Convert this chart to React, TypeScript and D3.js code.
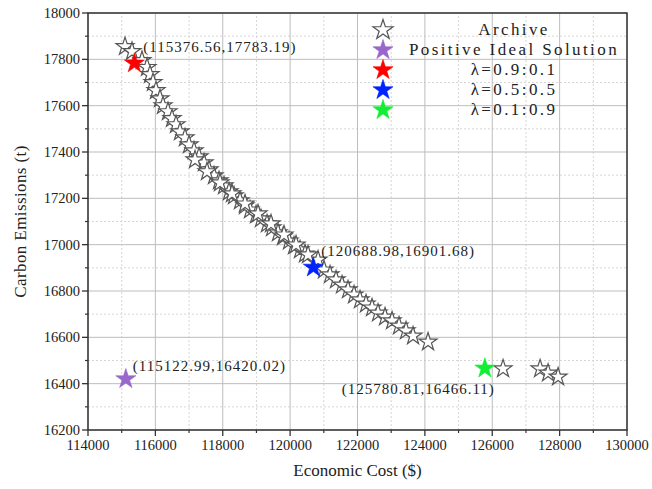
import * as d3 from 'd3';

// archive (pareto front)
const archiveCost = [
  115099, 115306, 115603, 115752, 115841, 115930, 116019, 116138, 116227, 116375,
  116494, 116613, 116731, 116880, 116999, 117147, 117296, 117444, 117592, 117741,
  117889, 118038, 118186, 118335, 118513, 118661, 118810, 118988, 119136, 119314,
  119463, 119641, 119790, 119968, 120116, 120294, 120443, 120829, 121007, 121185,
  121363, 121541, 121719, 121897, 122075, 122253, 122432, 122610, 122818, 123026,
  123233, 123441, 123649, 124094,
  117177, 117533, 117919, 118275, 118661, 119047, 119433, 119819, 120176, 120532,
  126321, 127420, 127657, 127954,
];
const archiveEmission = [
  17855, 17834, 17795, 17765, 17734, 17700, 17665, 17630, 17600, 17574,
  17544, 17518, 17487, 17461, 17431, 17405, 17379, 17353, 17323, 17297,
  17276, 17254, 17228, 17211, 17189, 17168, 17150, 17129, 17112, 17090,
  17073, 17051, 17034, 17016, 16995, 16978, 16960, 16934, 16891, 16870,
  16848, 16826, 16805, 16783, 16762, 16744, 16727, 16705, 16688, 16671,
  16649, 16628, 16606, 16580,
  17366, 17315, 17267, 17220, 17176, 17133, 17090, 17042, 16999, 16956,
  16464, 16464, 16446, 16429,
];

const specialNames = ['Positive Ideal Solution', 'λ=0.9:0.1', 'λ=0.5:0.5', 'λ=0.1:0.9'];
const specialCost = [115122.99, 115376.56, 120688.98, 125780.81];
const specialEmission = [16420.02, 17783.19, 16901.68, 16466.11];
const specialColors = ['#9966cc', '#ff0000', '#0022ff', '#11ee33'];

const xTicks = [114000, 116000, 118000, 120000, 122000, 124000, 126000, 128000, 130000];
const xMinor = [115000, 117000, 119000, 121000, 123000, 125000, 127000, 129000];
const yTicks = [16200, 16400, 16600, 16800, 17000, 17200, 17400, 17600, 17800, 18000];
const yMinor = [16300, 16500, 16700, 16900, 17100, 17300, 17500, 17700, 17900];

const W = 652;
const H = 489;
const margin = { left: 88, right: 25, top: 13, bottom: 59 };
const font = '"Liberation Serif", "Times New Roman", serif';

// label placement relative to each special point [dx, dy, anchor]
const labelPos: [number, number, string][] = [
  [7, -8, 'start'],
  [9, -11, 'start'],
  [8, -11, 'start'],
  [10, 26, 'end'],
];

export default function App() {
  const x = d3.scaleLinear().domain([114000, 130000]).range([margin.left, W - margin.right]);
  const y = d3.scaleLinear().domain([16200, 18000]).range([H - margin.bottom, margin.top]);
  const star = d3.symbol(d3.symbolStar, 100);
  const bigStar = d3.symbol(d3.symbolStar, 125);
  const x0 = x.range()[0], x1 = x.range()[1];
  const y0 = y.range()[0], y1 = y.range()[1];

  const legend = [
    { name: 'Archive', color: null as string | null },
    ...specialNames.map((n, i) => ({ name: n, color: specialColors[i] })),
  ];

  return (
    <svg width={W} height={H} style={{ position: 'absolute', left: 0, top: 0, background: '#fff' }}
      fontFamily={font}>
      {/* grid */}
      {xMinor.map((t) => (
        <line key={'xm' + t} x1={x(t)} x2={x(t)} y1={y0} y2={y1} stroke="#d6d6d6" strokeDasharray="2,2" />
      ))}
      {yMinor.map((t) => (
        <line key={'ym' + t} x1={x0} x2={x1} y1={y(t)} y2={y(t)} stroke="#d6d6d6" strokeDasharray="2,2" />
      ))}
      {xTicks.map((t) => (
        <line key={'xg' + t} x1={x(t)} x2={x(t)} y1={y0} y2={y1} stroke="#bdbdbd" />
      ))}
      {yTicks.map((t) => (
        <line key={'yg' + t} x1={x0} x2={x1} y1={y(t)} y2={y(t)} stroke="#bdbdbd" />
      ))}

      {/* frame */}
      <rect x={x0} y={y1} width={x1 - x0} height={y0 - y1} fill="none" stroke="#333" strokeWidth={1.5} />

      {/* ticks */}
      {xTicks.map((t) => (
        <g key={'xt' + t}>
          <line x1={x(t)} x2={x(t)} y1={y0} y2={y0 + 6} stroke="#333" strokeWidth={1.3} />
          <text x={x(t)} y={y0 + 20} textAnchor="middle" fontSize={14.5} fill="#222">{t}</text>
        </g>
      ))}
      {xMinor.map((t) => (
        <line key={'xmt' + t} x1={x(t)} x2={x(t)} y1={y0} y2={y0 + 3} stroke="#333" strokeWidth={1.2} />
      ))}
      {yTicks.map((t) => (
        <g key={'yt' + t}>
          <line x1={x0 - 6} x2={x0} y1={y(t)} y2={y(t)} stroke="#333" strokeWidth={1.3} />
          <text x={x0 - 8} y={y(t) + 5} textAnchor="end" fontSize={14.5} fill="#222">{t}</text>
        </g>
      ))}
      {yMinor.map((t) => (
        <line key={'ymt' + t} x1={x0 - 3} x2={x0} y1={y(t)} y2={y(t)} stroke="#333" strokeWidth={1.2} />
      ))}

      {/* axis titles */}
      <text x={(x0 + x1) / 2} y={476} textAnchor="middle" fontSize={17} fill="#222">
        Economic Cost ($)
      </text>
      <text transform={`translate(26,${(y0 + y1) / 2}) rotate(-90)`} textAnchor="middle" fontSize={17}
        letterSpacing={0.4} fill="#222">
        Carbon Emissions (t)
      </text>

      {/* archive */}
      {archiveCost.map((c, i) => (
        <path key={'a' + i} d={star()!} transform={`translate(${x(c)},${y(archiveEmission[i])})`}
          fill="#fff" stroke="#555" strokeWidth={1.2} />
      ))}

      {/* highlighted solutions */}
      {specialCost.map((c, i) => (
        <g key={'s' + i}>
          <path d={bigStar()!} transform={`translate(${x(c)},${y(specialEmission[i])})`}
            fill={specialColors[i]} stroke={specialColors[i]} strokeWidth={0.6} />
          <text x={x(c) + labelPos[i][0]} y={y(specialEmission[i]) + labelPos[i][1]}
            textAnchor={labelPos[i][2]} fontSize={15} letterSpacing={1} fill="#222">
            {`(${c.toFixed(2)},${specialEmission[i].toFixed(2)})`}
          </text>
        </g>
      ))}

      {/* legend */}
      {legend.map((l, i) => (
        <g key={'l' + i} transform={`translate(0,${30 + i * 20})`}>
          <path d={bigStar()!} transform="translate(383,0)"
            fill={l.color ?? '#fff'} stroke={l.color ?? '#555'} strokeWidth={l.color ? 0.6 : 1.2} />
          <text x={514} y={5} textAnchor="middle" fontSize={17} letterSpacing={2.4} fill="#222">
            {l.name}
          </text>
        </g>
      ))}
    </svg>
  );
}
